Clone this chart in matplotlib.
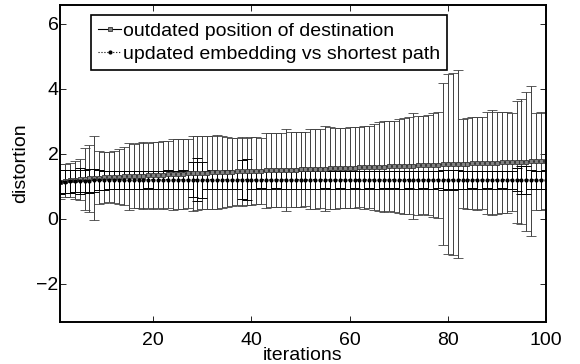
import matplotlib.pyplot as plt
from matplotlib.lines import Line2D

plt.rcParams['font.family'] = ['Liberation Sans', 'DejaVu Sans']

iters = list(range(1, 101))

# outdated position of destination: mean and half-width of error bar
outdated_mean = [1.15, 1.17, 1.19, 1.20, 1.22, 1.23, 1.25, 1.26, 1.27, 1.28,
                 1.29, 1.29, 1.30, 1.31, 1.31, 1.32, 1.33, 1.33, 1.34, 1.35,
                 1.35, 1.36, 1.37, 1.37, 1.38, 1.39, 1.40, 1.40, 1.41, 1.42,
                 1.42, 1.43, 1.43, 1.44, 1.45, 1.45, 1.46, 1.46, 1.47, 1.47,
                 1.48, 1.48, 1.49, 1.50, 1.50, 1.51, 1.51, 1.52, 1.52, 1.53,
                 1.53, 1.54, 1.54, 1.55, 1.55, 1.56, 1.56, 1.57, 1.57, 1.58,
                 1.58, 1.59, 1.59, 1.60, 1.60, 1.61, 1.61, 1.62, 1.62, 1.63,
                 1.63, 1.64, 1.64, 1.65, 1.65, 1.66, 1.66, 1.67, 1.68, 1.68,
                 1.69, 1.69, 1.70, 1.70, 1.71, 1.71, 1.72, 1.72, 1.73, 1.73,
                 1.74, 1.74, 1.75, 1.75, 1.76, 1.76, 1.77, 1.77, 1.78, 1.78]
outdated_err = [0.54, 0.51, 0.53, 0.58, 0.63, 0.95, 1.03, 1.29, 0.81, 0.78,
                0.78, 0.81, 0.84, 0.89, 1.04, 0.98, 1.00, 1.03, 1.01, 1.03,
                1.02, 1.04, 1.03, 1.09, 1.09, 1.07, 1.05, 1.15, 1.15, 1.12,
                1.13, 1.13, 1.14, 1.11, 1.07, 1.05, 1.04, 1.06, 1.03, 1.04,
                1.03, 1.02, 1.14, 1.14, 1.14, 1.14, 1.26, 1.14, 1.15, 1.15,
                1.14, 1.22, 1.23, 1.22, 1.31, 1.26, 1.24, 1.23, 1.24, 1.24,
                1.25, 1.23, 1.27, 1.26, 1.32, 1.38, 1.39, 1.38, 1.40, 1.45,
                1.47, 1.48, 1.63, 1.53, 1.51, 1.54, 1.60, 1.63, 2.49, 2.77,
                2.79, 2.88, 1.37, 1.40, 1.41, 1.43, 1.43, 1.58, 1.61, 1.57,
                1.56, 1.55, 1.50, 1.88, 1.92, 2.13, 2.31, 1.50, 1.50, 1.48]

# updated embedding vs shortest path
updated_mean = [1.14, 1.15, 1.16, 1.17, 1.17, 1.18, 1.18, 1.19, 1.19, 1.19,
                1.20, 1.19, 1.20, 1.20, 1.19, 1.20, 1.20, 1.20, 1.21, 1.20,
                1.20, 1.20, 1.21, 1.20, 1.20, 1.21, 1.20, 1.21, 1.21, 1.20,
                1.20, 1.21, 1.20, 1.20, 1.21, 1.20, 1.20, 1.21, 1.21, 1.20,
                1.20, 1.21, 1.20, 1.20, 1.21, 1.20, 1.21, 1.20, 1.20, 1.21,
                1.20, 1.20, 1.21, 1.20, 1.21, 1.20, 1.20, 1.21, 1.20, 1.20,
                1.21, 1.20, 1.20, 1.21, 1.20, 1.20, 1.21, 1.20, 1.21, 1.20,
                1.20, 1.21, 1.20, 1.20, 1.21, 1.20, 1.20, 1.21, 1.20, 1.21,
                1.20, 1.21, 1.20, 1.20, 1.21, 1.20, 1.20, 1.21, 1.20, 1.20,
                1.21, 1.20, 1.20, 1.21, 1.20, 1.20, 1.21, 1.20, 1.20, 1.21]
updated_err = [0.38, 0.36, 0.36, 0.35, 0.40, 0.34, 0.37, 0.36, 0.30, 0.29,
               0.28, 0.28, 0.27, 0.28, 0.27, 0.27, 0.28, 0.27, 0.27, 0.28,
               0.27, 0.27, 0.28, 0.27, 0.27, 0.28, 0.27, 0.55, 0.67, 0.55,
               0.27, 0.28, 0.27, 0.27, 0.28, 0.27, 0.27, 0.60, 0.62, 0.28,
               0.27, 0.27, 0.28, 0.27, 0.27, 0.28, 0.30, 0.27, 0.27, 0.28,
               0.27, 0.27, 0.28, 0.27, 0.27, 0.28, 0.27, 0.27, 0.28, 0.27,
               0.27, 0.28, 0.27, 0.27, 0.28, 0.27, 0.27, 0.28, 0.27, 0.27,
               0.28, 0.27, 0.27, 0.28, 0.27, 0.27, 0.28, 0.27, 0.30, 0.30,
               0.30, 0.28, 0.27, 0.28, 0.27, 0.27, 0.28, 0.27, 0.27, 0.28,
               0.27, 0.28, 0.27, 0.35, 0.42, 0.43, 0.30, 0.28, 0.27, 0.28]

labels = ['outdated position of destination', 'updated embedding vs shortest path']

fig = plt.figure(figsize=(5.8, 3.64), dpi=100)
ax = fig.add_axes([0.1034, 0.1154, 0.838, 0.870])

ax.errorbar(iters, outdated_mean, yerr=outdated_err, color='black', ecolor='0.25',
            elinewidth=0.7, capsize=3.5, capthick=0.7, linewidth=0.8,
            marker='s', markersize=2.5, mfc='0.5', mec='0.2', mew=0.6)
ax.errorbar(iters, updated_mean, yerr=updated_err, color='black', ecolor='black',
            elinewidth=0.7, capsize=3.5, capthick=0.7, linewidth=0.8, linestyle=':',
            marker='.', markersize=4)

ax.set_xlim(1, 100)
ax.set_ylim(-3.17, 6.57)
ax.set_xticks([20, 40, 60, 80, 100])
ax.set_yticks([-2, 0, 2, 4, 6])
ax.set_yticklabels(['\u22122', '0', '2', '4', '6'])
ax.tick_params(direction='in', top=True, right=True, length=4, width=0.6,
               labelsize=14)
ax.tick_params(axis='x', pad=7)
ax.tick_params(axis='y', pad=1)
for s in ax.spines.values():
    s.set_linewidth(1.4)

ax.set_xlabel('iterations', fontsize=14, labelpad=-1)
ax.set_ylabel('distortion', fontsize=14, labelpad=5)

handles = [Line2D([], [], color='black', linewidth=0.8, marker='s', markersize=2.5,
                  mfc='0.5', mec='0.2', mew=0.6),
           Line2D([], [], color='black', linewidth=0.8, linestyle=':', marker='.',
                  markersize=4)]
leg = ax.legend(handles, labels, loc='upper left', bbox_to_anchor=(0.064, 0.969),
                fontsize=14, frameon=True, fancybox=False, edgecolor='black',
                framealpha=1, borderpad=0.35, handlelength=1.2, handletextpad=0.1,
                labelspacing=0.3, borderaxespad=0)
leg.get_frame().set_linewidth(1.2)

fig.savefig('out.png', dpi=100)
